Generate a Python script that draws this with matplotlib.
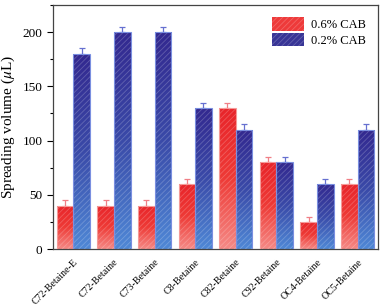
import numpy as np
import matplotlib
matplotlib.use("Agg")
import matplotlib.pyplot as plt
import matplotlib.transforms as mtransforms
from matplotlib.colors import LinearSegmentedColormap
from matplotlib.patches import Patch

# Data
labels = ["C72-Betaine-E", "C72-Betaine", "C73-Betaine", "C8-Betaine",
          "C82-Betaine", "C92-Betaine", "OC4-Betaine", "OC5-Betaine"]
cab06 = [40, 40, 40, 60, 130, 80, 25, 60]
cab02 = [180, 200, 200, 130, 110, 80, 60, 110]
err06 = [5, 5, 5, 5, 5, 5, 5, 5]
err02 = [5, 5, 5, 5, 5, 5, 5, 5]

plt.rcParams['font.family'] = ['Liberation Serif', 'DejaVu Serif']
plt.rcParams['hatch.linewidth'] = 0.6
plt.rcParams['mathtext.fontset'] = 'stix'

red_cmap = LinearSegmentedColormap.from_list("r", ["#f58a86", "#ee3a36", "#e8242a"])
blue_cmap = LinearSegmentedColormap.from_list("b", ["#4f88d6", "#3a4aa8", "#33288f"])

fig = plt.figure(figsize=(3.9, 3.06), dpi=100)
ax = fig.add_axes([0.136, 0.186, 0.833, 0.798])

x = np.arange(len(labels))
w = 0.41
grad = np.linspace(0, 1, 256).reshape(-1, 1)


def gradient_bars(xpos, vals, errs, cmap, edge_col, err_col):
    bars = ax.bar(xpos, vals, w, color="none", edgecolor=(1, 1, 1, 0.22),
                  hatch="//////", linewidth=0, zorder=3)
    for b in bars:
        x0, y0 = b.get_x(), b.get_y()
        im = ax.imshow(grad, cmap=cmap, origin="lower", aspect="auto",
                       extent=[x0, x0 + b.get_width(), y0, y0 + b.get_height()],
                       zorder=2)
        im.set_clip_path(b)
    ax.bar(xpos, vals, w, color="none", edgecolor=edge_col, linewidth=0.8,
           zorder=4)
    ax.errorbar(xpos, vals, yerr=[np.zeros(len(errs)), errs], fmt="none",
                ecolor=err_col, elinewidth=0.9, capsize=2.5, capthick=0.9,
                zorder=1)


gradient_bars(x - w / 2, cab06, err06, red_cmap, "#f59a98", "#f07f86")
gradient_bars(x + w / 2, cab02, err02, blue_cmap, "#7a8fe0", "#6670d0")

ax.set_xlim(-0.5, 7.5)
ax.set_ylim(0, 225)
ax.set_yticks([0, 50, 100, 150, 200])
ax.set_yticks([25, 75, 125, 175, 225], minor=True)
ax.set_xticks(x)
ax.set_xticklabels(labels, rotation=45, ha="right", rotation_mode="anchor",
                   fontsize=7.2)
shift = mtransforms.ScaledTranslation(7 / 100, 0, fig.dpi_scale_trans)
for t in ax.get_xticklabels():
    t.set_transform(t.get_transform() + shift)
ax.tick_params(axis="x", length=0, pad=6)
ax.tick_params(axis="y", which="major", direction="out", length=4,
               labelsize=9.5, width=0.8)
ax.tick_params(axis="y", which="minor", direction="out", length=2, width=0.8)
ax.set_ylabel(r"Spreading volume ($\mu$L)", fontsize=11)
for s in ax.spines.values():
    s.set_color("#444444")
    s.set_linewidth(0.9)

handles = [Patch(facecolor="#ee3a3a", edgecolor=(1, 1, 1, 0.22), hatch="//////",
                 linewidth=0, label="0.6% CAB"),
           Patch(facecolor="#383596", edgecolor=(1, 1, 1, 0.22), hatch="//////",
                 linewidth=0, label="0.2% CAB")]
ax.legend(handles=handles, loc="upper right", frameon=False, fontsize=9,
          handlelength=2.6, handleheight=1.3, labelspacing=0.1,
          handletextpad=0.5, borderaxespad=0.6)

fig.savefig("out.png", dpi=100)
